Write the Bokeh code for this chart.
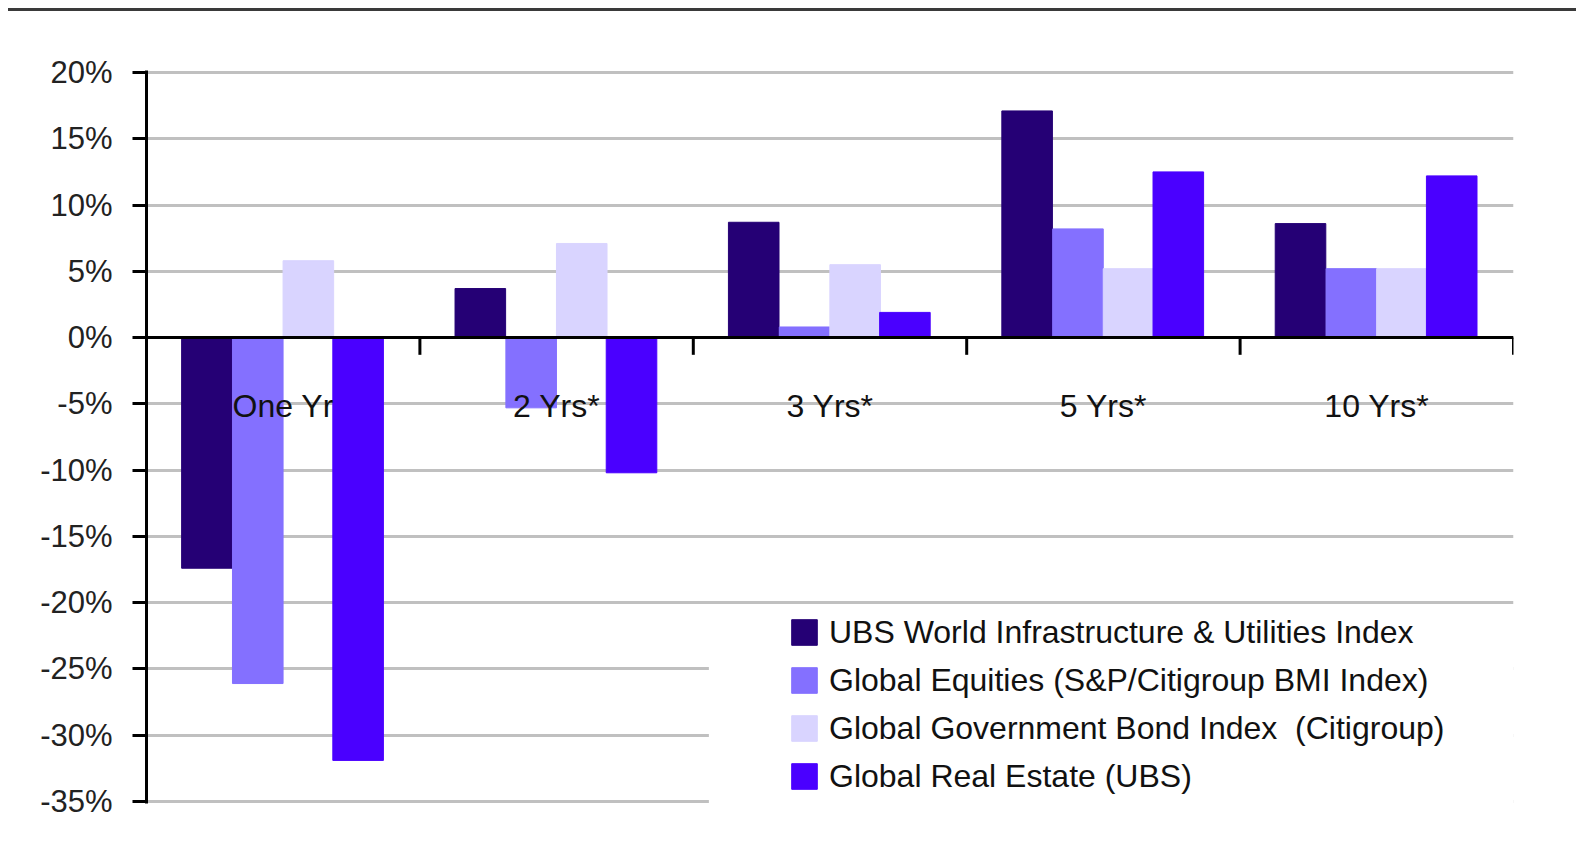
from bokeh.plotting import figure
from bokeh.models import (FactorRange, Range1d, ColumnDataSource, Span, PrintfTickFormatter,
                          FixedTicker, Legend, LegendItem, BoxAnnotation, Div)
from bokeh.transform import dodge
from bokeh.layouts import column
from bokeh.core.properties import value
from bokeh.embed import file_html
from bokeh.resources import INLINE

categories = ["One Yr", "2 Yrs*", "3 Yrs*", "5 Yrs*", "10 Yrs*"]
series_names = [
    "UBS World Infrastructure & Utilities Index",
    "Global Equities (S&P/Citigroup BMI Index)",
    "Global Government Bond Index  (Citigroup)",
    "Global Real Estate (UBS)",
]
infra = [-17.4, 3.7, 8.7, 17.1, 8.6]
equities = [-26.1, -5.3, 0.8, 8.2, 5.2]
bonds = [5.8, 7.1, 5.5, 5.2, 5.2]
real_estate = [-31.9, -10.2, 1.9, 12.5, 12.2]
y_ticks = [20, 15, 10, 5, 0, -5, -10, -15, -20, -25, -30, -35]

colors = ["#250075", "#8470FF", "#D9D4FF", "#4A00FF"]
FONT = "Liberation Sans"

p = figure(x_range=FactorRange(*categories), y_range=Range1d(-35.15, 20.15),
           width=1560, height=830, output_backend="svg", toolbar_location=None,
           x_axis_location=None,
           min_border_left=138, min_border_right=55, min_border_top=59, min_border_bottom=38)
p.outline_line_color = None
p.background_fill_color = "white"
p.border_fill_color = "white"
p.xgrid.visible = False
p.ygrid.grid_line_color = "#C0C0C0"
p.ygrid.grid_line_width = 3
p.ygrid.ticker = FixedTicker(ticks=y_ticks)

ax = p.yaxis[0]
ax.ticker = FixedTicker(ticks=y_ticks)
ax.formatter = PrintfTickFormatter(format="%d%%")
ax.axis_line_width = 3
ax.axis_line_color = "black"
ax.major_tick_line_width = 3
ax.major_tick_line_color = "black"
ax.major_tick_out = 14
ax.major_tick_in = 0
ax.minor_tick_line_color = None
ax.major_label_standoff = 20
ax.major_label_text_font = FONT
ax.major_label_text_font_size = "31px"
ax.major_label_text_color = "#222222"

src = ColumnDataSource(dict(cat=categories, infra=infra, equities=equities,
                            bonds=bonds, real_estate=real_estate))
fields = ["infra", "equities", "bonds", "real_estate"]
offsets = [-0.279, -0.093, 0.092, 0.274]
renderers = []
for f, off, c in zip(fields, offsets, colors):
    r = p.vbar(x=dodge("cat", off, range=p.x_range), top=f, bottom=0, width=0.185,
               source=src, fill_color=c, line_color=c, line_width=1)
    renderers.append(r)

# white area behind legend (hides gridlines like the original)
p.add_layout(BoxAnnotation(left=2.057, right=5.04, bottom=-35.5, top=-20.6,
                           fill_color="white", fill_alpha=1, line_alpha=0))

# zero axis line and category separators
p.add_layout(Span(location=0, dimension="width", line_color="black", line_width=3))
sep_src = ColumnDataSource(dict(x=categories[1:], y0=[0] * 4, y1=[-1.3] * 4))
p.segment(x0=dodge("x", -0.5, range=p.x_range), x1=dodge("x", -0.5, range=p.x_range),
          y0="y0", y1="y1", source=sep_src, line_color="black", line_width=3)
end_src = ColumnDataSource(dict(x=categories[-1:], y0=[0], y1=[-1.3]))
p.segment(x0=dodge("x", 0.5, range=p.x_range), x1=dodge("x", 0.5, range=p.x_range),
          y0="y0", y1="y1", source=end_src, line_color="black", line_width=3)

lab_src = ColumnDataSource(dict(cat=categories, y=[-5.15] * len(categories)))
p.text(x="cat", y="y", text="cat", source=lab_src, text_align="center",
       text_baseline="middle", text_font=value(FONT), text_font_size="32px",
       text_color="#111111")

legend = Legend(items=[LegendItem(label=n, renderers=[r]) for n, r in zip(series_names, renderers)],
                location=(642, 3), glyph_width=32, glyph_height=32, label_height=48,
                spacing=0, padding=0, margin=0, label_standoff=9,
                label_text_font=FONT, label_text_font_size="32px", label_text_color="#111111",
                background_fill_alpha=0, border_line_color=None)
p.add_layout(legend)

top_line = Div(text="", width=1568, height=3, margin=(0, 0, 0, 0),
               styles={"background-color": "#3a3a3a"})
layout = column(top_line, p, spacing=0, margin=(8, 0, 0, 8))

open("out.html", "w").write(file_html(layout, INLINE))
